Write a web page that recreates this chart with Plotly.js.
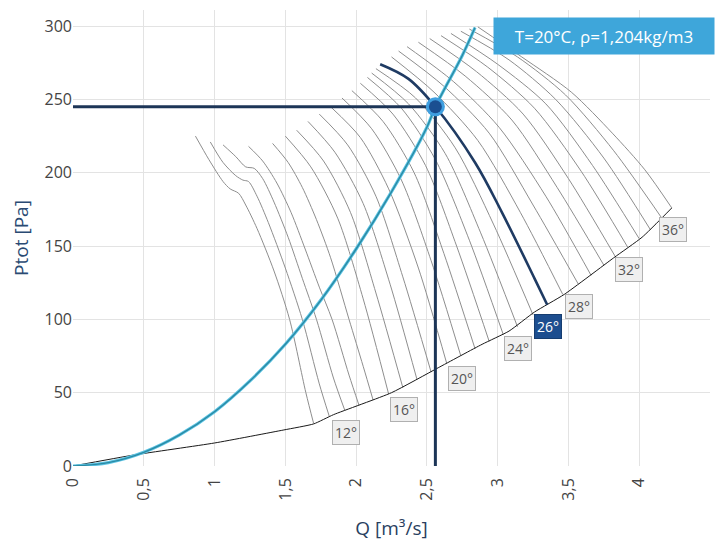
<!DOCTYPE html>
<html><head><meta charset="utf-8">
<script src="https://cdn.plot.ly/plotly-3.0.1.min.js"></script>
<style>html,body{margin:0;padding:0;background:#fff}#chart{width:719px;height:545px}</style>
</head><body><div id="chart"></div>
<script>
// Fan curves per blade angle (Q [m3/s], Ptot [Pa])
const q10 = [0.865,0.96,1.06,1.11,1.17,1.22,1.30,1.42,1.53,1.645,1.70];
const p10 = [225,209,194,189,186,178,162,133,100,50,29];
const q11 = [0.97,1.06,1.15,1.20,1.24,1.30,1.38,1.50,1.62,1.74,1.81];
const p11 = [221,207,198,195,194,184,166,135,100,56,34];
const q12 = [1.06,1.15,1.22,1.28,1.34,1.42,1.52,1.62,1.72,1.84,1.92];
const p12 = [219,211,204,203,196,180,156,128,100,60,38];
const q13 = [1.24,1.34,1.44,1.54,1.64,1.74,1.83,1.95,2.02];
const p13 = [218,208,193,173,148,122,100,62,41.5];
const q14 = [1.41,1.52,1.62,1.72,1.82,1.95,2.05,2.12];
const p14 = [220,207,190,168,142,100,68,45];
const q15 = [1.50,1.68,1.87,2.05,2.23], p15 = [225,204,169,114,49];
const q16 = [1.58,1.77,1.96,2.14,2.33], p16 = [229,208,173,118,53.5];
const q17 = [1.66,1.85,2.05,2.24,2.43], p17 = [235,214,179,124,59];
const q18 = [1.74,1.94,2.14,2.33,2.53], p18 = [240,219,184,129,64];
const q19 = [1.82,2.03,2.23,2.44,2.64], p19 = [245,224,189,135,70];
const q20 = [1.90,2.11,2.32,2.53,2.74], p20 = [251,230,195,140,75];
const q21 = [1.97,2.19,2.41,2.62,2.84], p21 = [256,235,200,145,80];
const q22 = [2.03,2.26,2.49,2.71,2.94], p22 = [261,240,205,150,85];
const q23 = [2.08,2.32,2.56,2.80,3.04], p23 = [265,244,209,154,89.5];
const q24 = [2.11,2.37,2.63,2.88,3.14], p24 = [268,247,213,159,95];
const q25 = [2.14,2.42,2.70,2.97,3.25], p25 = [271,251,217,165,103];
const q26 = [2.17,2.37,2.56,2.84,3.03,3.26,3.35];
const p26 = [274,264,245,207,173,128,110];
const q27 = [2.25,2.55,2.86,3.16,3.46], p27 = [279,255,222,173,117];
const q28 = [2.30,2.62,2.94,3.25,3.57], p28 = [283,259,227,178,124];
const q29 = [2.36,2.69,3.01,3.34,3.66], p29 = [286,262,231,184,130];
const q30 = [2.44,2.77,3.10,3.42,3.75], p30 = [289,266,236,190,137];
const q31 = [2.52,2.85,3.18,3.50,3.83], p31 = [291.5,269,240,196,143];
const q32 = [2.60,2.93,3.26,3.59,3.92], p32 = [293.5,272,244,201,149];
const q33 = [2.67,3.00,3.34,3.67,4.00], p33 = [295,274,247,205,155];
const q34 = [2.74,3.08,3.41,3.75,4.08], p34 = [296.5,277,250,210,161];
const q35 = [2.80,3.14,3.48,3.82,4.16], p35 = [298,279,253,215,169];
const q36 = [2.86,3.17,3.52,3.81,4.04,4.23], p36 = [299.5,279,255,227,202,176];

// Lower limit line
const boundQ = [0,0.43,1.0,1.49,1.70,1.84,2.25,2.58,2.89,3.08,3.26,3.47,3.82,4.02,4.23];
const boundP = [0,7.5,15.7,24.6,28.7,35,50,67,83,92,105,117,142,156,176];

// System curve
const sysQ = [0,0.25,0.5,0.75,1,1.25,1.5,1.75,2,2.25,2.5,2.56,2.75,2.84];
const sysP = [0,2.3,9.3,21,37,58,83,113,148,187,231,245,280,299];

// Operating point
const opQ = 2.56, opP = 245;

const angles = [10,11,12,13,14,15,16,17,18,19,20,21,22,23,24,25,26,27,28,29,30,31,32,33,34,35,36];
const labelAngles = [12,16,20,24,26,28,32,36];
const selectedAngle = 26;
const infoText = 'T=20°C, ρ=1,204kg/m3';

const curves = {10:[q10,p10],11:[q11,p11],12:[q12,p12],13:[q13,p13],14:[q14,p14],15:[q15,p15],
  16:[q16,p16],17:[q17,p17],18:[q18,p18],19:[q19,p19],20:[q20,p20],21:[q21,p21],22:[q22,p22],
  23:[q23,p23],24:[q24,p24],25:[q25,p25],26:[q26,p26],27:[q27,p27],28:[q28,p28],29:[q29,p29],
  30:[q30,p30],31:[q31,p31],32:[q32,p32],33:[q33,p33],34:[q34,p34],35:[q35,p35],36:[q36,p36]};

const traces = [];
angles.forEach(a => {
  if (a === selectedAngle) return;
  traces.push({x:curves[a][0], y:curves[a][1], mode:'lines', hoverinfo:'skip', showlegend:false,
    line:{color:'#8e8e8e', width:1, shape:'spline', smoothing:0.8}});
});
traces.push({x:boundQ, y:boundP, mode:'lines', showlegend:false, hoverinfo:'skip',
  line:{color:'#1a1a1a', width:1, shape:'spline', smoothing:0.5}});
traces.push({x:sysQ, y:sysP, mode:'lines', showlegend:false, hoverinfo:'skip',
  line:{color:'#5cc4e4', width:3.2, shape:'spline'}});
traces.push({x:sysQ, y:sysP, mode:'lines', showlegend:false, hoverinfo:'skip',
  line:{color:'#2a8aa4', width:1.4, shape:'spline'}});
traces.push({x:curves[selectedAngle][0], y:curves[selectedAngle][1], mode:'lines', showlegend:false, hoverinfo:'skip',
  line:{color:'#1f3b63', width:2.6, shape:'spline', smoothing:1}});
traces.push({x:[0, opQ], y:[opP, opP], mode:'lines', showlegend:false, hoverinfo:'skip',
  line:{color:'#1c3557', width:3}});
traces.push({x:[opQ, opQ], y:[0, opP], mode:'lines', showlegend:false, hoverinfo:'skip',
  line:{color:'#1c3557', width:3}});
traces.push({x:[opQ], y:[opP], mode:'markers', showlegend:false, hoverinfo:'skip',
  marker:{size:19, color:'#3f9fe0'}});
traces.push({x:[opQ], y:[opP], mode:'markers', showlegend:false, hoverinfo:'skip',
  marker:{size:13, color:'#1b4f91'}});

const annotations = labelAngles.map(a => {
  const q = curves[a][0], p = curves[a][1];
  const sel = a === selectedAngle;
  return {x:q[q.length-1], y:p[p.length-1], xref:'x', yref:'y', text:a+'°', showarrow:false,
    xanchor:'center', yanchor:'middle', yshift:-22, xshift:1,
    bgcolor: sel ? '#1d4e8f' : '#efefef', bordercolor: sel ? '#163d70' : '#b0b0b0', borderwidth:1, borderpad:2,
    font:{family:'Open Sans', size:14, color: sel ? '#ffffff' : '#555555'}};
});
annotations.push({xref:'paper', yref:'paper', x:0.8336, y:0.943, xanchor:'center', yanchor:'middle',
  text:infoText, showarrow:false, bgcolor:'#3ea6da', width:214, height:30, borderpad:3,
  font:{family:'Open Sans', size:17, color:'#ffffff'}});

const layout = {
  width:719, height:545,
  margin:{l:73, r:9, t:10, b:79},
  paper_bgcolor:'#ffffff', plot_bgcolor:'#ffffff',
  separators:', ',
  font:{family:'Open Sans', color:'#444'},
  xaxis:{range:[0,4.5], tick0:0, dtick:0.5, tickangle:-90, gridcolor:'#e3e3e3', zeroline:false,
    showline:false, ticks:'', ticklabelstandoff:8, tickfont:{size:16, color:'#444'},
    title:{text:'Q [m³/s]', font:{size:19, color:'#2a3f5f'}, standoff:22}},
  yaxis:{range:[0,311], tick0:0, dtick:50, gridcolor:'#e3e3e3', zeroline:false, showline:false,
    ticks:'', tickfont:{size:16, color:'#444'},
    title:{text:'Ptot [Pa]', font:{size:19, color:'#2a4a73'}, standoff:10}},
  annotations:annotations
};
Plotly.newPlot('chart', traces, layout, {staticPlot:true, displayModeBar:false});
</script></body></html>
